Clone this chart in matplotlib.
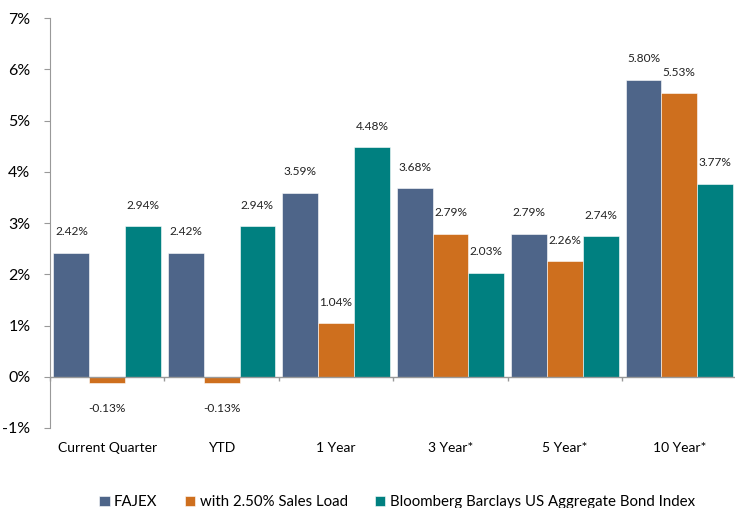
import numpy as np
import matplotlib.pyplot as plt

plt.rcParams['font.family'] = ['Lato', 'DejaVu Sans']

categories = ['Current Quarter', 'YTD', '1 Year', '3 Year*', '5 Year*', '10 Year*']
fajex = [2.42, 2.42, 3.59, 3.68, 2.79, 5.80]
sales_load = [-0.13, -0.13, 1.04, 2.79, 2.26, 5.53]
bond_index = [2.94, 2.94, 4.48, 2.03, 2.74, 3.77]

series = [
    ('FAJEX', fajex, '#4E6589'),
    ('with 2.50% Sales Load', sales_load, '#CE6F1E'),
    ('Bloomberg Barclays US Aggregate Bond Index', bond_index, '#008080'),
]

fig = plt.figure(figsize=(7.35, 5.08), dpi=100)
ax = fig.add_axes([0.068, 0.1575, 0.934, 0.807])

x = np.arange(len(categories))
w = 0.313
for i, (name, vals, col) in enumerate(series):
    pos = x + (i - 1) * w
    ax.bar(pos, vals, w, color=col, label=name, edgecolor='white', linewidth=0.4)
    for p, v in zip(pos, vals):
        if v >= 0:
            ax.annotate(f'{v:.2f}%', (p, v), xytext=(0, 11), textcoords='offset points',
                        ha='center', va='bottom', fontsize=8.6, color='#222222')
        else:
            ax.annotate(f'{v:.2f}%', (p, v), xytext=(0, -14), textcoords='offset points',
                        ha='center', va='top', fontsize=8.6, color='#222222')

ax.set_xlim(-0.5, len(categories) - 0.5)
ax.set_ylim(-1, 7)
ax.set_yticks(range(-1, 8))
ax.set_yticklabels([f'{t}%' for t in range(-1, 8)], fontsize=11.5)
ax.set_xticks(x)
ax.set_xticklabels(categories, fontsize=10)
ax.tick_params(axis='x', length=0, pad=10)
ax.tick_params(axis='y', length=4, color='#999999', pad=10)

for s in ['top', 'right', 'bottom']:
    ax.spines[s].set_visible(False)
ax.spines['left'].set_color('#999999')
ax.axhline(0, color='#999999', linewidth=1, zorder=3)
bounds = np.arange(len(categories) + 1) - 0.5
ax.vlines(bounds, -0.08, 0, color='#999999', linewidth=1, zorder=3, clip_on=False)

fig.legend(loc='center', bbox_to_anchor=(0.54, 1 - 502 / 508), ncol=3, frameon=False,
           fontsize=10.8, handlelength=0.7, handleheight=0.7, handletextpad=0.3,
           columnspacing=1.8)

plt.savefig('out.png', dpi=100)
